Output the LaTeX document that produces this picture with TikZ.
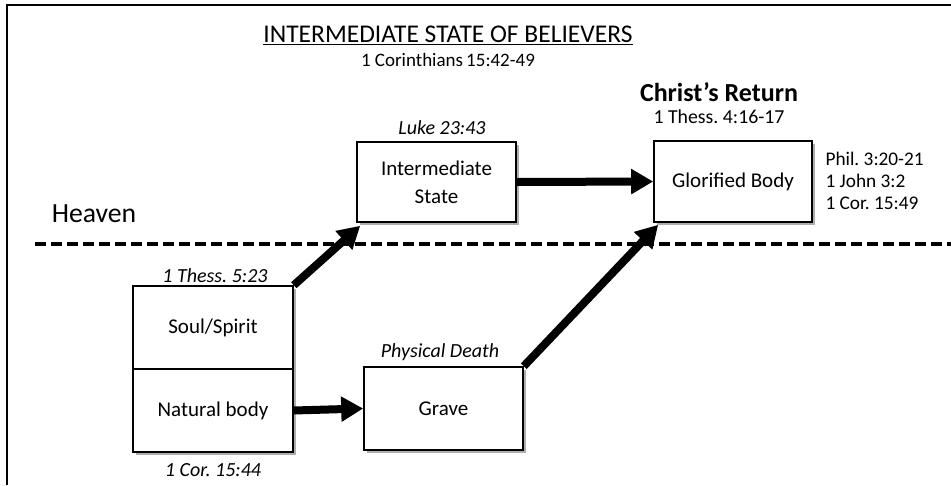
\documentclass[tikz,border=0pt]{standalone}
\usepackage{fontspec}
\setmainfont{Carlito}
\usetikzlibrary{arrows.meta,shadows}
\begin{document}
\frenchspacing
\begin{tikzpicture}[x=1pt,y=-1pt,
  box/.style={draw=black,line width=1.6pt,fill=white,align=center,
    font=\fontsize{21}{28}\selectfont,inner sep=0pt,
    drop shadow={shadow xshift=2.5pt,shadow yshift=-2.5pt,opacity=0.45,fill=black!70}},
  arr/.style={line width=8pt,-{Triangle[length=22pt,width=24pt]}},
  ref/.style={font=\fontsize{20}{24}\selectfont\itshape},
  plain/.style={font=\fontsize{19.8}{22}\selectfont},
  frame/.style={line width=2pt}]
\useasboundingbox (0,0) rectangle (951,485);
\coordinate (f1) at (7,485); \coordinate (f2) at (7,5); \coordinate (f3) at (951,5);
\draw[frame] (f1) -- (f2) -- (f3);
% title
\node (title) at (448,35) {\fontsize{25.5}{28}\selectfont\underline{INTERMEDIATE STATE OF BELIEVERS}};
\node (cor) at (448,60) {\fontsize{19}{22}\selectfont 1 Corinthians\,15:42-49};
\node (ret) at (719,92) {\fontsize{26}{30}\selectfont\bfseries Christ’s Return};
\node[plain] (thess) at (719,117) {1 Thess. 4:16-17};
\node[ref] (luke) at (442,128) {Luke 23:43};
% boxes
\node[box,minimum width=159pt,minimum height=80pt] (inter) at (436.5,182) {Intermediate\\State};
\node[box,minimum width=158pt,minimum height=81pt] (glor) at (733,181.5) {Glorified Body};
\node[box,minimum width=160pt,minimum height=83pt] (soul) at (213,327.5) {Soul/Spirit};
\node[box,minimum width=160pt,minimum height=83pt] (nat) at (213,410.5) {Natural body};
\node[box,minimum width=159pt,minimum height=83pt] (grave) at (443.5,408.5) {Grave};
% refs
\node[align=left,anchor=west,font=\fontsize{19.3}{22}\selectfont] (phil) at (822,181) {Phil. 3:20-21\\1 John 3:2\\1 Cor. 15:49};
\node (heaven) at (94,214) {\fontsize{27.7}{30}\selectfont Heaven};
\node[ref] (th5) at (215,276) {1 Thess. 5:23};
\node[ref] (cor44) at (213,470) {1 Cor. 15:44};
\node[ref] (death) at (440,352) {Physical Death};
% dashed line
\coordinate (dl) at (35,244); \coordinate (dr) at (951,244);
\draw[line width=4.5pt,dash pattern=on 11pt off 5pt] (dl) -- (dr);
% arrows
\draw[arr] (nat.east) -- (grave.west);
\draw[arr] (inter.east) -- (glor.west);
\draw[arr] (soul.north east) -- ([shift={(4pt,-3pt)}]inter.south west);
\draw[arr] (grave.north east) -- ([shift={(5pt,-2pt)}]glor.south west);
\end{tikzpicture}
\end{document}
